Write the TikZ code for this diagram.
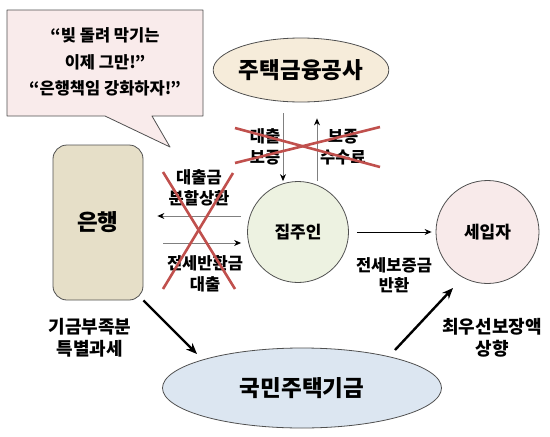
\documentclass[tikz,border=0pt]{standalone}
\usepackage{fontspec}
\setmainfont{Noto Sans CJK KR}
\newfontfamily\krbold{Noto Sans CJK KR Black}
\usetikzlibrary{arrows.meta, positioning, shapes.geometric}
\definecolor{linegray}{HTML}{505050}
\definecolor{crossred}{HTML}{C0504D}
\definecolor{bubblepink}{HTML}{F9EBEB}
\definecolor{hfcbeige}{HTML}{F6ECDA}
\definecolor{bankbeige}{HTML}{E6DFC8}
\definecolor{ownergreen}{HTML}{EDF2E1}
\definecolor{tenantpink}{HTML}{F8EAEA}
\definecolor{fundblue}{HTML}{DCE6F1}

\begin{document}
\begin{tikzpicture}[x=1pt, y=-1pt, line join=round,
    outlined/.style={draw=linegray, line width=0.8pt, inner sep=0pt},
    bigtxt/.style={font=\krbold\fontsize{22.5}{26}\selectfont},
    roundtxt/.style={font=\krbold\fontsize{17}{20}\selectfont},
    midtxt/.style={font=\krbold\fontsize{16.5}{20.5}\selectfont, align=center},
    lowtxt/.style={font=\krbold\fontsize{18}{22}\selectfont, align=center},
    flowarr/.style={draw=gray, line width=1pt, -{Stealth[length=7pt, width=6pt, black]}},
    plainarr/.style={draw=black, line width=0.9pt, -{Stealth[length=7pt, width=6pt]}},
    mainarr/.style={line width=2.4pt, -{Stealth[length=11pt, width=9pt]}},
    cross/.style={draw=crossred, line width=2.6pt}]
    \useasboundingbox (0,0) rectangle (550,437);

    % Speech bubble
    \draw[fill=bubblepink, draw=linegray, line width=0.8pt] (7,10) -- (203,10) -- (203,116) -- (152,116) -- (170,147) -- (105,116) -- (7,116) -- cycle;
    \node[font=\krbold\fontsize{16.5}{26.5}\selectfont, align=center] (say) at (105,62) {“빚 돌려 막기는\\이제 그만!”\\“은행책임 강화하자!”};

    % Parties
    \node[outlined, ellipse, fill=hfcbeige, minimum width=168pt, minimum height=64pt, bigtxt] (hfc) at (301,70) {주택금융공사};
    \node[outlined, rectangle, rounded corners=14pt, fill=bankbeige, minimum width=90pt, minimum height=155pt, bigtxt] (bank) at (98,222.5) {은행};
    \node[outlined, circle, fill=ownergreen, minimum size=101pt, roundtxt] (owner) at (298,232) {집주인};
    \node[outlined, circle, fill=tenantpink, minimum size=103pt, roundtxt] (tenant) at (487.5,232) {세입자};
    \node[outlined, ellipse, fill=fundblue, minimum width=279pt, minimum height=80pt, bigtxt] (fund) at (302,388) {국민주택기금};

    % Flows between the parties
    \draw[flowarr] ([shift={(-18pt,-11pt)}]hfc.south) -- ([xshift=-15pt]owner.north);
    \draw[flowarr] ([xshift=19pt]owner.north) -- ([shift={(16pt,-16pt)}]hfc.south);
    \draw[flowarr] ([shift={(-6pt,16pt)}]owner.west) -- ([shift={(14pt,6.5pt)}]bank.east);
    \draw[flowarr] ([shift={(20pt,-20.5pt)}]bank.east) -- ([shift={(-6pt,-11pt)}]owner.west);
    \draw[plainarr, shorten <=8pt, shorten >=4pt] (owner) -- (tenant);
    \draw[mainarr] (bank.south east) -- ([shift={(-105pt,34pt)}]fund.center);
    \draw[mainarr] ([shift={(93pt,38pt)}]fund.center) -- ([shift={(-34.5pt,-56pt)}]tenant.center);

    % Flow labels
    \node[midtxt] (guarantee) at (265,147) {대출\\보증};
    \node[midtxt] (fee) at (343,147) {보증\\수수료};
    \node[midtxt] (repay) at (199,188) {대출금\\분할상환};
    \node[midtxt] (refundloan) at (205,274) {전세반환금\\대출};
    \node[midtxt] (deposit) at (394,275) {전세보증금\\반환};
    \node[lowtxt] (tax) at (90,338) {기금부족분\\특별과세};
    \node[lowtxt] (priority) at (492,338) {최우선보장액\\상향};

    % Crossed-out flows
    \draw[cross] (235,128) -- (380,167);
    \draw[cross] (235,163) -- (380,127);
    \draw[cross] (163,172) -- (235,289);
    \draw[cross] (233,173) -- (163,289);
\end{tikzpicture}
\end{document}
